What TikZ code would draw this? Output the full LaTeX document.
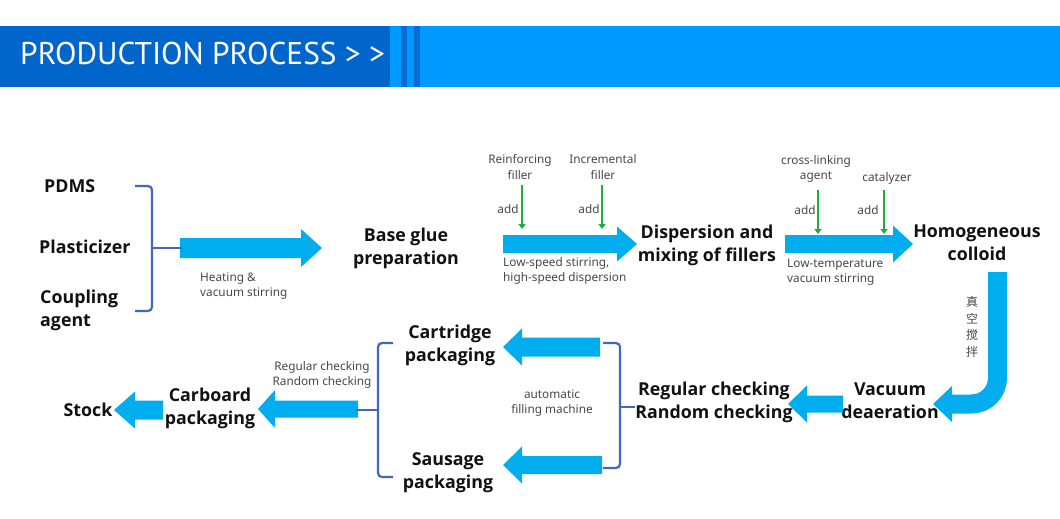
\documentclass[tikz,border=0pt]{standalone}
\usepackage{fontspec}
\setmainfont{Noto Sans}
\newfontfamily\bigfont{Open Sans}
\newfontfamily\titlefont{PT Sans}
\newfontfamily\cjk{Noto Sans CJK SC}
\usetikzlibrary{arrows.meta}
\definecolor{bandark}{RGB}{0,102,204}
\definecolor{banlight}{RGB}{0,153,255}
\definecolor{banstripe}{RGB}{8,108,212}
\definecolor{flow}{RGB}{0,174,239}
\definecolor{addgreen}{RGB}{34,170,68}
\definecolor{brace}{RGB}{68,102,187}
\definecolor{ink}{RGB}{17,17,17}
\definecolor{note}{RGB}{72,72,72}
\tikzset{
  big/.style={inner sep=0pt, align=center, text=ink, font=\bigfont\fontsize{17.8}{23}\selectfont\bfseries},
  small/.style={inner sep=0pt, align=center, text=note, font=\fontsize{11.8}{15.5}\selectfont},
  brk/.style={draw=brace, line width=2.2pt, rounded corners=4pt},
  addarrow/.style={draw=addgreen, line width=2.4pt, -{Triangle[width=7pt,length=5pt]}},
  blockfill/.style={fill=flow, draw=none}
}
% \blockarr{x body start}{x head base}{x tip}{y}{half body}{half head}
\newcommand{\blockarr}[6]{%
  \fill[blockfill] (#1,#4-#5) -- (#2,#4-#5) -- (#2,#4-#6) -- (#3,#4) -- (#2,#4+#6) -- (#2,#4+#5) -- (#1,#4+#5) -- cycle;}
\begin{document}
\begin{tikzpicture}[x=1pt,y=-1pt]
\useasboundingbox (0,0) rectangle (1060,519);
\fill[white] (0,0) rectangle (1060,519);
% banner
\fill[banlight] (0,26) rectangle (1060,87);
\fill[bandark] (0,26) rectangle (390,87);
\fill[banstripe] (401,26) rectangle (407,87);
\fill[banstripe] (414,26) rectangle (420,87);
\node[anchor=base west, inner sep=0pt, text=white, font=\titlefont\fontsize{31.4}{32}\selectfont] (title) at (20,65) {PRODUCTION PROCESS > >};

% row 1 texts
\node[big, anchor=west] (pdms) at (44,186) {PDMS};
\node[big, anchor=west] (plast) at (39,247) {Plasticizer};
\node[big, anchor=west, align=left] (coup) at (40,310) {Coupling\\agent};
\node[big] (base) at (406,248) {Base glue\\preparation};
\node[big] (disp) at (707,245) {Dispersion and\\mixing of fillers};
\node[big] (homo) at (977,243) {Homogeneous\\colloid};

% row 2 texts
\node[big] (vac) at (890,401) {Vacuum\\deaeration};
\node[big] (reg) at (714,402) {Regular checking\\Random checking};
\node[big] (cart) at (450,345) {Cartridge\\packaging};
\node[big] (saus) at (448,473) {Sausage\\packaging};
\node[big] (carb) at (210,408) {Carboard\\packaging};
\node[big] (stock) at (88,410) {Stock};

% small labels
\node[small, anchor=west, align=left] (heat) at (200,286) {Heating \&\\vacuum stirring};
\node[small, anchor=west, align=left] (lowspeed) at (503,271) {Low-speed stirring,\\high-speed dispersion};
\node[small, anchor=west, align=left] (lowtemp) at (787,272) {Low-temperature\\vacuum stirring};
\node[small] (reinf) at (520,167) {Reinforcing\\filler};
\node[small] (incr) at (603,167) {Incremental\\filler};
\node[small] (cross) at (816,169) {cross-linking\\agent};
\node[small] (cata) at (887,178) {catalyzer};
\node[small] (add1) at (508,209) {add};
\node[small] (add2) at (589,209) {add};
\node[small] (add3) at (805,210) {add};
\node[small] (add4) at (868,210) {add};
\node[small] (auto) at (552,403) {automatic\\filling machine};
\node[small] (chk) at (322,375) {Regular checking\\Random checking};
\node[inner sep=0pt, align=center, text=note, font=\cjk\fontsize{12}{16.5}\selectfont] (vacstir) at (972,327) {真\\空\\搅\\拌};

% block arrows
\blockarr{180}{301}{322}{248}{10}{19}
\blockarr{503}{617}{637}{244}{9}{17.5}
\blockarr{785}{893}{913}{244}{9}{18.5}
\blockarr{843}{807}{788}{404}{8.5}{18.5}
\blockarr{600}{522}{503}{347}{9.5}{18.5}
\blockarr{602}{522}{503}{465}{9}{18.5}
\blockarr{358}{275}{258}{409}{8.5}{19}
\blockarr{163}{135}{114}{410}{9.5}{18.5}
% J-shaped arrow
\draw[flow, line width=19pt, rounded corners=26pt] (997.5,272) |- (951,404);
\fill[blockfill] (952,386) -- (952,422) -- (933,404) -- cycle;

% green add arrows
\draw[addarrow] (522,185) -- (522,229);
\draw[addarrow] (602,185) -- (602,229);
\draw[addarrow] (818,190) -- (818,234);
\draw[addarrow] (884,190) -- (884,234);

% brackets
\draw[brk] (135,186) -| (152,311) -- (135,311);
\draw[brk] (152,248) -- (182,248);
\draw[brk] (603,343) -| (620,468) -- (603,468);
\draw[brk] (620,407) -- (635,407);
\draw[brk] (393,343) -| (378,477) -- (393,477);
\draw[brk] (378,410) -- (356,410);
\end{tikzpicture}
\end{document}
